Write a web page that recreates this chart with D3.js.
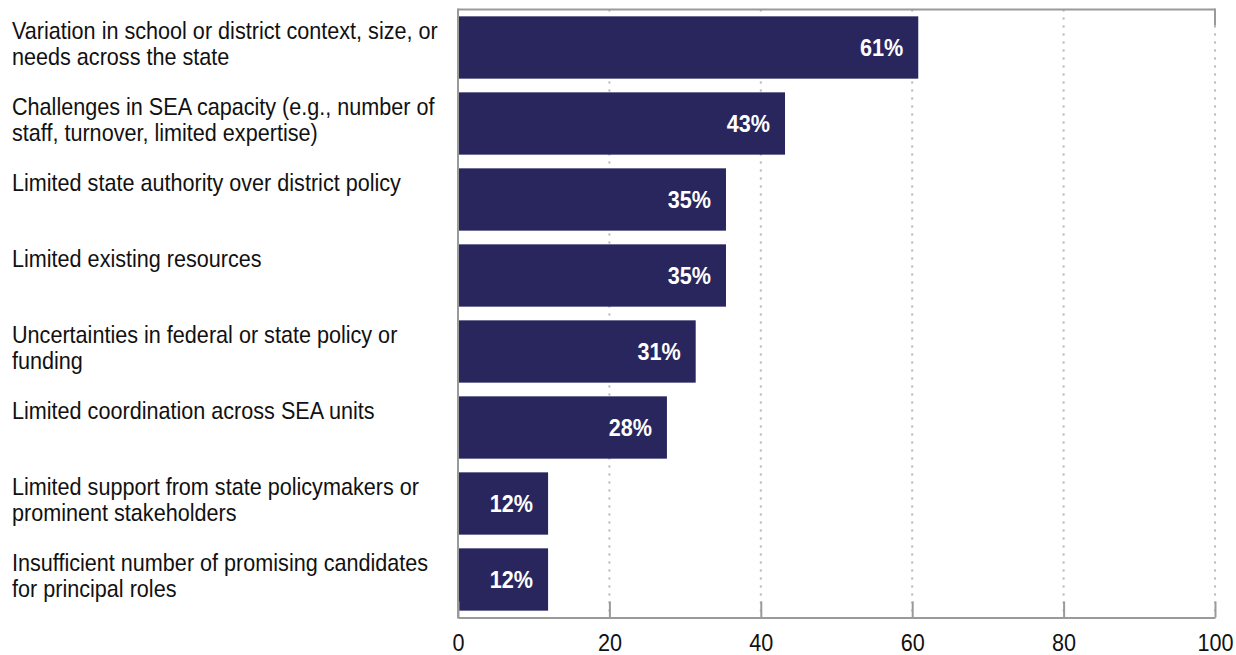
<!DOCTYPE html>
<html>
<head>
<meta charset="utf-8">
<script src="https://cdn.jsdelivr.net/npm/d3@7"></script>
<style>
  body { margin: 0; background: #fff; }
  text { font-family: "Liberation Sans", Arial, sans-serif; }
</style>
</head>
<body>
<div id="canvas"></div>
<script>
"use strict"

/* Data: categories (label lines), values in percent */
let categories = [
    ["Variation in school or district context, size, or", "needs across the state"],
    ["Challenges in SEA capacity (e.g., number of", "staff, turnover, limited expertise)"],
    ["Limited state authority over district policy"],
    ["Limited existing resources"],
    ["Uncertainties in federal or state policy or", "funding"],
    ["Limited coordination across SEA units"],
    ["Limited support from state policymakers or", "prominent stakeholders"],
    ["Insufficient number of promising candidates", "for principal roles"]
];
let values = [60.8, 43.2, 35.4, 35.4, 31.4, 27.6, 11.9, 11.9];
let valueLabels = ["61%", "43%", "35%", "35%", "31%", "28%", "12%", "12%"];
let xTicks = [0, 20, 40, 60, 80, 100];

/* Drawing config */
let svgWidth = 1236;
let svgHeight = 655;
let plotLeft = 458;
let plotRight = 1215;
let plotTop = 9.5;
let plotBottom = 617.5;
let barColor = "#29265e";
let axisColor = "#9a9a9a";
let narrow = 0.9;   // squeeze text horizontally, the original uses a narrow face

let svg = d3.select("#canvas")
    .append("svg")
    .attr("width", svgWidth)
    .attr("height", svgHeight);

let xScale = d3.scaleLinear()
    .domain([0, 100])
    .range([plotLeft, plotRight]);

let yScale = d3.scaleBand()
    .domain(d3.range(values.length))
    .range([plotTop, plotBottom])
    .paddingInner(0.18)
    .paddingOuter(0.09);

/* dotted gridlines */
svg.selectAll("line.grid")
    .data(xTicks.slice(1))
    .join("line")
    .attr("class", "grid")
    .attr("x1", d => xScale(d))
    .attr("x2", d => xScale(d))
    .attr("y1", plotTop)
    .attr("y2", plotBottom)
    .attr("stroke", "#b5b5b5")
    .attr("stroke-width", 2)
    .attr("stroke-dasharray", "2,6");

/* bars */
svg.selectAll("rect.bar")
    .data(values)
    .join("rect")
    .attr("class", "bar")
    .attr("x", xScale(0))
    .attr("y", (d, i) => yScale(i))
    .attr("width", d => xScale(d) - xScale(0))
    .attr("height", yScale.bandwidth())
    .attr("fill", barColor);

/* value labels inside bars */
svg.selectAll("text.val")
    .data(values)
    .join("text")
    .attr("class", "val")
    .attr("transform", (d, i) => "translate(" + (xScale(d) - 15) + "," +
        (yScale(i) + yScale.bandwidth() / 2) + ") scale(" + narrow + ",1)")
    .attr("dy", "0.36em")
    .attr("text-anchor", "end")
    .attr("fill", "#fff")
    .attr("font-weight", "bold")
    .attr("font-size", 24)
    .text((d, i) => valueLabels[i]);

/* frame: top line and right edge */
svg.append("line")
    .attr("x1", plotLeft).attr("x2", plotRight)
    .attr("y1", plotTop).attr("y2", plotTop)
    .attr("stroke", axisColor).attr("stroke-width", 2);
svg.append("line")
    .attr("x1", plotRight).attr("x2", plotRight)
    .attr("y1", plotTop - 1).attr("y2", plotTop + 16)
    .attr("stroke", axisColor).attr("stroke-width", 2);

/* left axis line */
svg.append("line")
    .attr("x1", plotLeft).attr("x2", plotLeft)
    .attr("y1", plotTop - 1).attr("y2", plotBottom + 1)
    .attr("stroke", axisColor).attr("stroke-width", 2);

/* bottom axis with inward ticks */
let xAxis = svg.append("g")
    .attr("transform", "translate(0," + plotBottom + ")")
    .call(d3.axisBottom(xScale).tickValues(xTicks).tickSizeInner(-16).tickSizeOuter(0).tickPadding(16));
xAxis.select(".domain").attr("stroke", axisColor).attr("stroke-width", 2);
xAxis.selectAll(".tick line").attr("stroke", axisColor).attr("stroke-width", 2);
xAxis.selectAll(".tick text")
    .attr("fill", "#111")
    .attr("font-size", 24)
    .attr("font-family", "Liberation Sans, Arial, sans-serif")
    .attr("transform", "scale(" + narrow + ",1)");

/* category labels */
let catLabels = svg.selectAll("text.cat")
    .data(categories)
    .join("text")
    .attr("class", "cat")
    .attr("transform", (d, i) => "translate(12," + (yScale(i) + 23) + ") scale(" + narrow + ",1)")
    .attr("font-size", 24)
    .attr("fill", "#111");

catLabels.selectAll("tspan")
    .data(d => d)
    .join("tspan")
    .attr("x", 0)
    .attr("dy", (d, j) => j === 0 ? 0 : 26)
    .text(d => d);
</script>
</body>
</html>
